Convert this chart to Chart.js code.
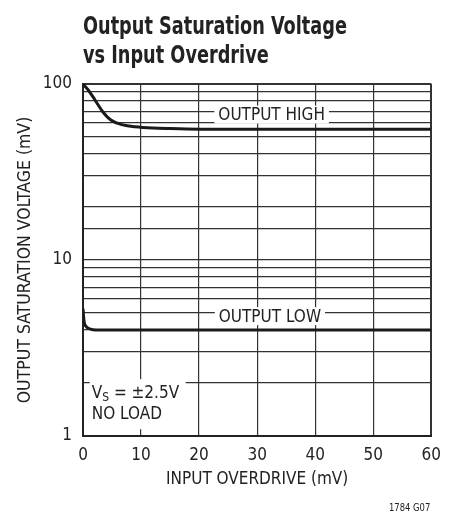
<!DOCTYPE html>
<html>
<head>
<meta charset="utf-8">
<script src="https://cdn.jsdelivr.net/npm/chart.js@4"></script>
<style>
  html, body { margin: 0; padding: 0; background: #fff; }
  #wrap { width: 450px; height: 519px; position: relative; }
</style>
</head>
<body>
<div id="wrap"><canvas id="chart"></canvas></div>
<script>
const FONT = "'DejaVu Sans Condensed', 'DejaVu Sans', sans-serif"

const titleLines = ["Output Saturation Voltage", "vs Input Overdrive"]
const xTitle = "INPUT OVERDRIVE (mV)"
const yTitle = "OUTPUT SATURATION VOLTAGE (mV)"
const figureCode = "1784 G07"

// output high curve
const highX = [0, 0.9, 1.7, 2.5, 3.4, 4.8, 6.5, 9, 12, 15, 20, 30, 40, 50, 60]
const highY = [100, 92.5, 84.7, 77, 69.6, 62.4, 59, 57.2, 56.2, 55.8, 55.4, 55.3, 55.3, 55.3, 55.3]

// output low curve
const lowX = [0, 0.1, 0.2, 0.5, 1, 1.7, 3, 10, 60]
const lowY = [5.3, 4.8, 4.45, 4.2, 4.08, 4.02, 4.0, 4.0, 4.0]

// text labels placed in data coordinates
const curveLabels = [
  { text: "OUTPUT HIGH", x: 32.5, y: 67 },
  { text: "OUTPUT LOW", x: 32.2, y: 4.8 },
]
const condLines = [
  { main: "V", sub: "S", rest: " = ±2.5V", x: 1.5, y: 1.75 },
  { main: "NO LOAD", sub: "", rest: "", x: 1.5, y: 1.32 },
]

const toPoints = (xs, ys) => xs.map((x, i) => ({ x: x, y: ys[i] }))

// text squeezed sideways, to look like the condensed face of the original
const narrowText = (ctx, text, x, y, k) => {
  ctx.save()
  ctx.translate(x, y)
  ctx.scale(k, 1)
  ctx.fillText(text, 0, 0)
  ctx.restore()
}

const annotations = {
  id: "annotations",
  beforeDatasetsDraw(chart) {
    const ctx = chart.ctx
    const xs = chart.scales.x
    const ys = chart.scales.y
    ctx.save()
    ctx.font = "17px " + FONT
    ctx.textBaseline = "middle"
    ctx.textAlign = "center"
    curveLabels.forEach(l => {
      const px = xs.getPixelForValue(l.x)
      const py = ys.getPixelForValue(l.y)
      const w = ctx.measureText(l.text).width
      ctx.fillStyle = "#fff"
      ctx.fillRect(px - w / 2 - 4, py - 9, w + 8, 18)
      ctx.fillStyle = "#222"
      ctx.fillText(l.text, px, py + 1)
    })

    // conditions box
    const bx = xs.getPixelForValue(condLines[0].x) - 2
    const by = ys.getPixelForValue(condLines[0].y) - 14
    ctx.fillStyle = "#fff"
    ctx.fillRect(bx, by, 96, 50)
    ctx.textAlign = "left"
    condLines.forEach(l => {
      let px = xs.getPixelForValue(l.x)
      const py = ys.getPixelForValue(l.y)
      ctx.fillStyle = "#222"
      ctx.font = "17px " + FONT
      ctx.fillText(l.main, px, py)
      px += ctx.measureText(l.main).width
      if (l.sub) {
        ctx.font = "12px " + FONT
        ctx.fillText(l.sub, px, py + 5)
        px += ctx.measureText(l.sub).width
      }
      ctx.font = "17px " + FONT
      ctx.fillText(l.rest, px, py)
    })

    // title and figure code
    ctx.font = "bold 24px " + FONT
    ctx.textBaseline = "alphabetic"
    ctx.fillStyle = "#222"
    narrowText(ctx, titleLines[0], chart.chartArea.left, 34, 0.82)
    narrowText(ctx, titleLines[1], chart.chartArea.left, 63, 0.82)
    ctx.font = "11px " + FONT
    ctx.textAlign = "right"
    narrowText(ctx, figureCode, chart.chartArea.right - 1, 511, 0.85)
    ctx.restore()
  },
}

new Chart(document.getElementById("chart"), {
  type: "line",
  data: {
    datasets: [
      { data: toPoints(highX, highY), borderColor: "#1a1a1a", borderWidth: 3, pointRadius: 0, cubicInterpolationMode: "monotone" },
      { data: toPoints(lowX, lowY), borderColor: "#1a1a1a", borderWidth: 3, pointRadius: 0, cubicInterpolationMode: "monotone" },
    ],
  },
  options: {
    responsive: true,
    maintainAspectRatio: false,
    animation: false,
    layout: { padding: { top: 84, right: 15, left: 0, bottom: 25 } },
    scales: {
      x: {
        type: "linear",
        min: 0,
        max: 60,
        ticks: { stepSize: 10, color: "#222", font: { family: FONT, size: 17 }, padding: 9, maxRotation: 0 },
        grid: { color: "#333", lineWidth: c => (c.tick && (c.tick.value === 0 || c.tick.value === 60) ? 2 : 1.2), drawTicks: false },
        border: { color: "#222", width: 2 },
        title: { display: true, text: xTitle, color: "#222", font: { family: FONT, size: 17 }, padding: { top: 4, bottom: 4 } },
        afterFit: s => { s.height = 58 },
      },
      y: {
        type: "logarithmic",
        min: 1,
        max: 100,
        ticks: {
          autoSkip: false,
          color: "#222",
          font: { family: FONT, size: 17 },
          padding: 11,
          callback: v => ([1, 10, 100].includes(v) ? String(v) : ""),
        },
        grid: { color: "#333", lineWidth: c => (c.tick && c.tick.value === 100 ? 2 : 1.2), drawTicks: false },
        border: { color: "#222", width: 2 },
        title: { display: true, text: yTitle, color: "#222", font: { family: FONT, size: 17.5 }, padding: { top: 15 } },
        afterFit: s => { s.width = 83 },
      },
    },
    plugins: {
      legend: { display: false },
      tooltip: { enabled: false },
    },
  },
  plugins: [annotations],
})
</script>
</body>
</html>
